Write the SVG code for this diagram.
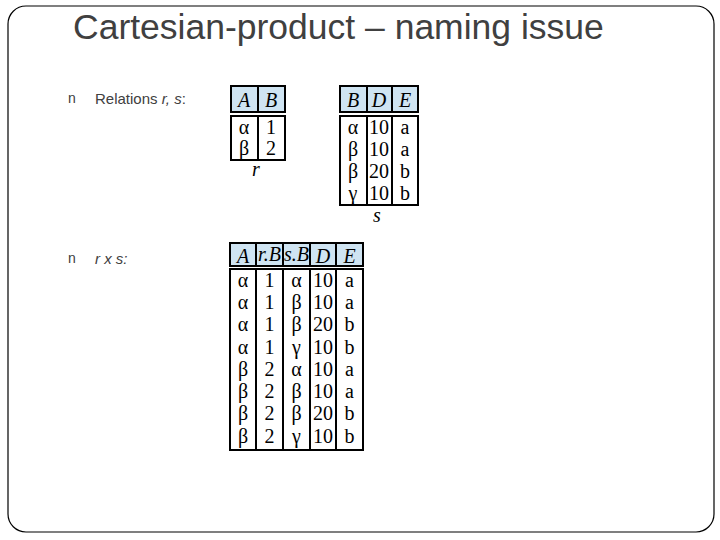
<svg xmlns="http://www.w3.org/2000/svg" width="720" height="540" viewBox="0 0 720 540">
<style>
.s{font-family:"Liberation Sans",Arial,sans-serif;fill:#404040}
.t{font-family:"Liberation Serif","Times New Roman",serif;fill:#000;font-size:20px;text-anchor:middle}
.h{fill:#cfe4f2;stroke:#000;stroke-width:2}
.b{fill:#fff;stroke:#000;stroke-width:2}
.l{stroke:#000;stroke-width:2}
</style>
<rect width="720" height="540" fill="#fff"/>
<rect x="8" y="6" width="706" height="526" rx="18" fill="none" stroke="#000" stroke-width="1.2"/>
<text class="s" x="73" y="39" font-size="35.5">Cartesian-product – naming issue</text>
<g id="bullet1"><text class="s" x="68" y="103" font-size="14">n</text><text class="s" x="95" y="104" font-size="15">Relations <tspan font-style="italic">r, s</tspan>:</text></g>
<g id="bullet2"><text class="s" x="68" y="263" font-size="14">n</text><text class="s" x="95" y="264" font-size="15" font-style="italic">r x s:</text></g>
<g id="table-r">
<rect class="h" x="231" y="86" width="54" height="26"/><line class="l" x1="258" y1="86" x2="258" y2="112"/>
<text class="t" x="244" y="107" font-style="italic">A</text><text class="t" x="271" y="107" font-style="italic">B</text>
<rect class="b" x="231" y="116" width="54" height="44"/><line class="l" x1="258" y1="116" x2="258" y2="160"/>
<text class="t" x="244" y="134">α</text><text class="t" x="271" y="134">1</text>
<text class="t" x="244" y="155">β</text><text class="t" x="271" y="155">2</text>
<text class="t" x="256" y="176" font-size="15" font-style="italic">r</text>
</g>
<g id="table-s">
<rect class="h" x="340" y="86" width="78" height="26"/><line class="l" x1="367" y1="86" x2="367" y2="112"/><line class="l" x1="392" y1="86" x2="392" y2="112"/>
<text class="t" x="353" y="107" font-style="italic">B</text><text class="t" x="379" y="107" font-style="italic">D</text><text class="t" x="405" y="107" font-style="italic">E</text>
<rect class="b" x="340" y="116" width="78" height="89"/><line class="l" x1="367" y1="116" x2="367" y2="205"/><line class="l" x1="392" y1="116" x2="392" y2="205"/>
<g>
<text class="t" x="353" y="134">α</text><text class="t" x="379" y="134">10</text><text class="t" x="405" y="134">a</text>
<text class="t" x="353" y="156">β</text><text class="t" x="379" y="156">10</text><text class="t" x="405" y="156">a</text>
<text class="t" x="353" y="178">β</text><text class="t" x="379" y="178">20</text><text class="t" x="405" y="178">b</text>
<text class="t" x="353" y="200">γ</text><text class="t" x="379" y="200">10</text><text class="t" x="405" y="200">b</text>
</g>
<text class="t" x="377" y="222" font-size="15" font-style="italic">s</text>
</g>
<g id="table-rxs">
<rect class="h" x="230" y="243" width="133" height="23"/>
<line class="l" x1="256" y1="243" x2="256" y2="266"/><line class="l" x1="283" y1="243" x2="283" y2="266"/><line class="l" x1="310" y1="243" x2="310" y2="266"/><line class="l" x1="336" y1="243" x2="336" y2="266"/>
<text class="t" x="243" y="263" font-style="italic">A</text><text class="t" x="269.5" y="261" font-size="13" font-style="italic">r.B</text><text class="t" x="296.5" y="261" font-size="13" font-style="italic">s.B</text><text class="t" x="323" y="263" font-style="italic">D</text><text class="t" x="349.5" y="263" font-style="italic">E</text>
<rect class="b" x="230" y="269" width="133" height="181"/>
<line class="l" x1="256" y1="269" x2="256" y2="450"/><line class="l" x1="283" y1="269" x2="283" y2="450"/><line class="l" x1="310" y1="269" x2="310" y2="450"/><line class="l" x1="336" y1="269" x2="336" y2="450"/>
<g>
<text class="t" x="243" y="287">α</text><text class="t" x="269.5" y="287">1</text><text class="t" x="296.5" y="287">α</text><text class="t" x="323" y="287">10</text><text class="t" x="349.5" y="287">a</text>
<text class="t" x="243" y="309">α</text><text class="t" x="269.5" y="309">1</text><text class="t" x="296.5" y="309">β</text><text class="t" x="323" y="309">10</text><text class="t" x="349.5" y="309">a</text>
<text class="t" x="243" y="331">α</text><text class="t" x="269.5" y="331">1</text><text class="t" x="296.5" y="331">β</text><text class="t" x="323" y="331">20</text><text class="t" x="349.5" y="331">b</text>
<text class="t" x="243" y="354">α</text><text class="t" x="269.5" y="354">1</text><text class="t" x="296.5" y="354">γ</text><text class="t" x="323" y="354">10</text><text class="t" x="349.5" y="354">b</text>
<text class="t" x="243" y="376">β</text><text class="t" x="269.5" y="376">2</text><text class="t" x="296.5" y="376">α</text><text class="t" x="323" y="376">10</text><text class="t" x="349.5" y="376">a</text>
<text class="t" x="243" y="398">β</text><text class="t" x="269.5" y="398">2</text><text class="t" x="296.5" y="398">β</text><text class="t" x="323" y="398">10</text><text class="t" x="349.5" y="398">a</text>
<text class="t" x="243" y="420">β</text><text class="t" x="269.5" y="420">2</text><text class="t" x="296.5" y="420">β</text><text class="t" x="323" y="420">20</text><text class="t" x="349.5" y="420">b</text>
<text class="t" x="243" y="443">β</text><text class="t" x="269.5" y="443">2</text><text class="t" x="296.5" y="443">γ</text><text class="t" x="323" y="443">10</text><text class="t" x="349.5" y="443">b</text>
</g>
</g>
</svg>
